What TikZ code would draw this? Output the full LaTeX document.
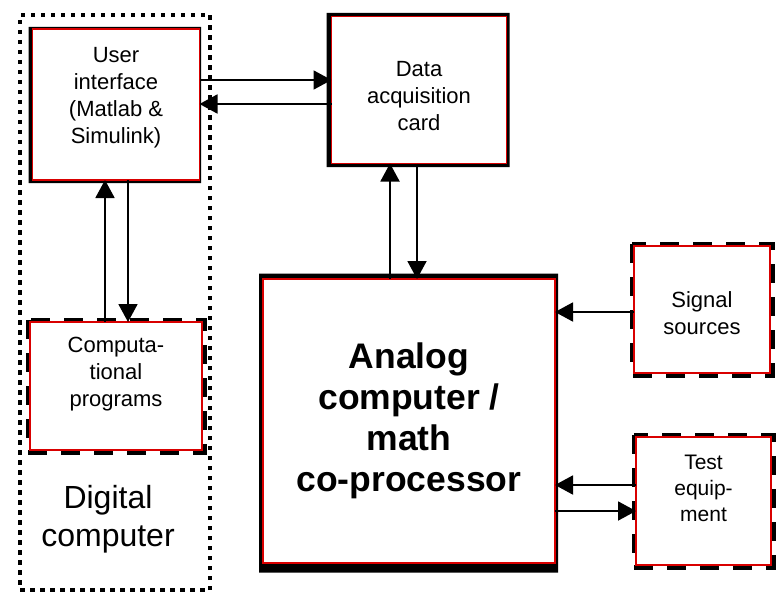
\documentclass[tikz,border=0pt]{standalone}
\usepackage{fontspec}
\setmainfont{Liberation Sans}
\usetikzlibrary{arrows.meta,backgrounds}

\tikzset{
  redbox/.style={draw=red!85!black, line width=1.4pt, rectangle, inner sep=0pt, outer sep=0pt, align=center,
    font=\fontsize{22}{27}\selectfont},
  bigbox/.style={redbox, font=\fontsize{35.5}{41}\selectfont\bfseries},
  dashframe/.style={draw=black, line width=5pt, dash pattern=on 19pt off 14pt},
  dotbox/.style={draw=black, line width=4.5pt, dash pattern=on 4.5pt off 5.5pt, rectangle, inner sep=0pt, outer sep=0pt},
  flow/.style={line width=1.9pt, -{Triangle[length=18pt,width=19pt]}}
}

\begin{document}
\begin{tikzpicture}[x=1pt, y=-1pt]
\useasboundingbox (0,0) rectangle (783,604);

% digital computer frame
\node[dotbox, minimum width=190pt, minimum height=575pt] (dig) at (115,302.5) {};
\node[align=center, font=\fontsize{32}{38}\selectfont] (digtext) at (108,519) {Digital\\computer};

% boxes
\node[redbox, minimum width=167pt, minimum height=151pt, text depth=19pt] (ui) at (116,104.5)
  {User\\interface\\(Matlab \&\\Simulink)};
\node[redbox, minimum width=175pt, minimum height=147pt] (card) at (419,90)
  {\rule{0pt}{28pt}Data\\acquisition\\card};
\node[redbox, minimum width=172pt, minimum height=128pt, text depth=28pt] (comp) at (116,386)
  {Computa-\\tional\\programs};
\node[bigbox, minimum width=292pt, minimum height=284pt] (analog) at (409,421)
  {Analog\\computer /\\math\\co-processor};
\node[redbox, minimum width=136pt, minimum height=127pt] (sig) at (702,309.5)
  {\rule{0pt}{24pt}Signal\\sources};
\node[redbox, minimum width=135pt, minimum height=128pt, text depth=26pt,
  font=\fontsize{21}{26}\selectfont] (test) at (703.5,501)
  {Test\\equip-\\ment};

% black frames behind the red lines
\begin{pgfonlayer}{background}
\fill[even odd rule] ([shift={(-4,-2)}]ui.north west) rectangle ([shift={(1.5,3)}]ui.south east)
  (ui.north west) rectangle (ui.south east);
\fill[even odd rule] ([shift={(-5,-3.5)}]card.north west) rectangle ([shift={(3,3.5)}]card.south east)
  (card.north west) rectangle (card.south east);
\fill[even odd rule] ([shift={(-4,-5.5)}]analog.north west) rectangle ([shift={(3,9.5)}]analog.south east)
  (analog.north west) rectangle (analog.south east);
\draw[dashframe] ([shift={(-2,-2)}]comp.north west) rectangle ([shift={(2,2)}]comp.south east);
\draw[dashframe] ([shift={(-2,-2)}]sig.north west) rectangle ([shift={(2,2)}]sig.south east);
\draw[dashframe] ([shift={(-2,-2)}]test.north west) rectangle ([shift={(2,2)}]test.south east);
\end{pgfonlayer}

% connections
\draw[flow] (ui.east |- 0,80) -- (card.west |- 0,80);
\draw[flow] (card.west |- 0,104) -- (ui.east |- 0,104);
\draw[flow] (comp.north -| 105,0) -- (ui.south -| 105,0);
\draw[flow] (ui.south -| 128,0) -- (comp.north -| 128,0);
\draw[flow] (analog.north -| 390,0) -- (card.south -| 390,0);
\draw[flow] (card.south -| 417,0) -- (analog.north -| 417,0);
\draw[flow] (sig.west |- 0,312) -- (analog.east |- 0,312);
\draw[flow] (test.west |- 0,485) -- (analog.east |- 0,485);
\draw[flow] (analog.east |- 0,511) -- (test.west |- 0,511);
\end{tikzpicture}
\end{document}
